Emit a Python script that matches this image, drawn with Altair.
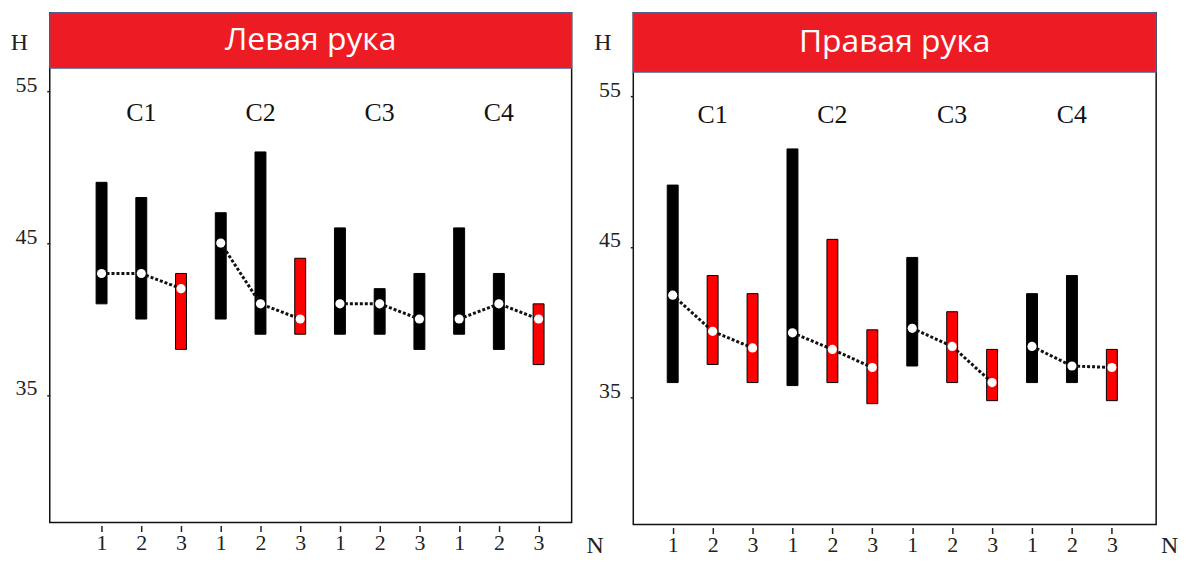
import altair as alt
import pandas as pd

categories = ["C1", "C2", "C3", "C4"]
trials = [1, 2, 3]
panel_titles = ["Левая рука", "Правая рука"]

left_low = [41, 40, 38, 40, 39, 39, 39, 39, 38, 39, 38, 37]
left_high = [49, 48, 43, 47, 51, 44, 46, 42, 43, 46, 43, 41]
left_mean = [43, 43, 42, 45, 41, 40, 41, 41, 40, 40, 41, 40]
left_red = [0, 0, 1, 0, 0, 1, 0, 0, 0, 0, 0, 1]

right_low = [36, 37.2, 36, 35.8, 36, 34.6, 37.1, 36, 34.8, 36, 36, 34.8]
right_high = [49.1, 43.1, 41.9, 51.5, 45.5, 39.5, 44.3, 40.7, 38.2, 41.9, 43.1, 38.2]
right_mean = [41.8, 39.4, 38.3, 39.3, 38.2, 37.0, 39.6, 38.4, 36.0, 38.4, 37.1, 37.0]
right_red = [0, 1, 1, 0, 1, 1, 0, 1, 1, 0, 0, 1]

SERIF = "Liberation Serif"


def build_df(low, high, mean, red):
    rows = []
    for ci, c in enumerate(categories):
        for ti, t in enumerate(trials):
            i = ci * 3 + ti
            rows.append({"pos": i + 1, "cat": c, "trial": t, "low": low[i],
                         "high": high[i], "mean": mean[i],
                         "kind": "red" if red[i] else "black"})
    return pd.DataFrame(rows)


def panel(df, title, W, H, xdom, ydom, header_h, cat_y, n_x, n_y):
    xs = alt.Scale(domain=xdom, nice=False, zero=False)
    ys = alt.Scale(domain=ydom, nice=False, zero=False)
    xaxis = alt.Axis(values=list(range(1, 13)), labelExpr="(datum.value - 1) % 3 + 1",
                     grid=False, domain=False, tickSize=6, offset=3, labelPadding=1,
                     labelFont=SERIF, labelFontSize=22, labelColor="#222", tickColor="#222",
                     tickWidth=1.5, title="N", titleFont=SERIF, titleFontSize=24,
                     titleFontWeight="normal", titleColor="#222", titleX=n_x, titleY=n_y,
                     titleAlign="center", titleBaseline="middle", labelAngle=0)
    yaxis = alt.Axis(values=[35, 45, 55], grid=False, domain=False, tickSize=3,
                     labelPadding=10, labelFont=SERIF, labelFontSize=22, labelColor="#222",
                     tickColor="#222", tickWidth=1.5, labelBaseline="alphabetic",
                     title="H", titleFont=SERIF, titleFontSize=24, titleFontWeight="normal",
                     titleColor="#222", titleAngle=0, titleX=-31, titleY=30,
                     titleAlign="center", titleBaseline="middle")
    base = alt.Chart(df)
    bars = base.mark_bar(size=11, stroke="black", strokeWidth=1).encode(
        x=alt.X("pos:Q", scale=xs, axis=xaxis),
        y=alt.Y("low:Q", scale=ys, axis=yaxis),
        y2="high:Q",
        color=alt.Color("kind:N", scale=alt.Scale(domain=["black", "red"],
                                                  range=["#000000", "#FF0000"]), legend=None),
    )
    line = base.mark_line(color="#111", strokeWidth=3, strokeDash=[3, 2]).encode(
        x=alt.X("pos:Q", scale=xs), y=alt.Y("mean:Q", scale=ys), detail="cat:N")
    pts = base.mark_circle(color="white", size=85, opacity=1).encode(
        x=alt.X("pos:Q", scale=xs), y=alt.Y("mean:Q", scale=ys))
    catdf = pd.DataFrame({"cat": categories, "center": [i * 3 + 2 for i in range(len(categories))]})
    cats = alt.Chart(catdf).mark_text(font=SERIF, fontSize=26, color="#111").encode(
        x=alt.X("center:Q", scale=xs), y=alt.value(cat_y), text="cat:N")
    hdf = pd.DataFrame({"t": [title]})
    hdr = alt.Chart(hdf).mark_rect(color="#ED1C24", stroke="#4F6FA8", strokeWidth=1).encode(
        x=alt.value(0), x2=alt.value(W), y=alt.value(0), y2=alt.value(header_h))
    htxt = alt.Chart(hdf).mark_text(font="Open Sans", fontSize=32, color="white",
                                    baseline="middle").encode(
        x=alt.value(W / 2), y=alt.value(header_h / 2), text="t:N")
    return alt.layer(bars, line, pts, cats, hdr, htxt).properties(width=W, height=H)


dl = build_df(left_low, left_high, left_mean, left_red)
dr = build_df(right_low, right_high, right_mean, right_red)

pl = panel(dl, panel_titles[0], 525, 513, [-0.179, 12.707], [26.60, 60.17], 56, 101, 548, 20)
pr = panel(dr, panel_titles[1], 526, 515, [0.137, 12.985], [26.58, 60.54], 60, 103, 539, 18)

chart = alt.hconcat(pl, pr, spacing=62, bounds="flush").properties(
    padding={"left": 1, "top": 1, "right": 5, "bottom": 5}
).configure_view(stroke="#111", strokeWidth=1.5).resolve_scale(color="independent")

chart.save("out.html", embed_options={"renderer": "svg", "actions": False})
